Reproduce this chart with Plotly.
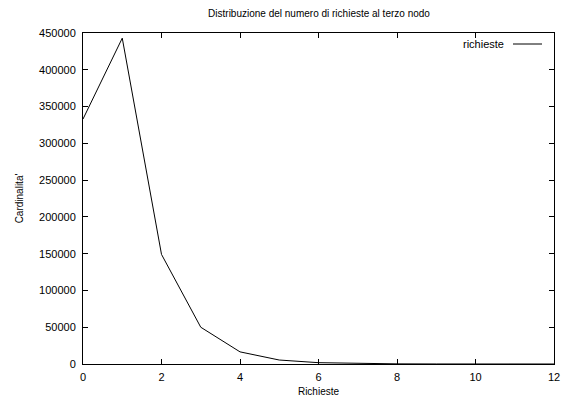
import plotly.graph_objects as go

richieste = [0, 1, 2, 3, 4, 5, 6, 7, 8, 9, 10, 11, 12]
cardinalita = [333000, 443000, 149000, 50000, 16500, 5400, 1800, 600, 200, 60, 20, 6, 2]
x_ticks = [0, 2, 4, 6, 8, 10, 12]
y_ticks = [0, 50000, 100000, 150000, 200000, 250000, 300000, 350000, 400000, 450000]

FAM = "Liberation Sans, Arial, sans-serif"
font = dict(family=FAM, size=11, color="black")
tfont = dict(family=FAM, size=10, color="black")

fig = go.Figure()
fig.add_trace(go.Scatter(x=richieste, y=cardinalita, mode="lines",
                         line=dict(color="black", width=1), name="richieste",
                         showlegend=False))

axis_common = dict(showline=True, linecolor="black", linewidth=1, mirror="allticks",
                   ticks="inside", ticklen=5, tickcolor="black", tickwidth=1,
                   showgrid=False, zeroline=False, tickfont=font, automargin=False)

fig.update_layout(
    width=572, height=398,
    margin=dict(l=83, r=18, t=33, b=34),
    paper_bgcolor="white", plot_bgcolor="white",
    font=font,
    title=dict(text="Distribuzione del numero di richieste al terzo nodo",
               x=319 / 572, xanchor="center", y=1 - 13 / 398, yanchor="middle",
               font=tfont),
    xaxis=dict(range=[0, 12], tickvals=x_ticks, ticktext=[str(v) for v in x_ticks],
               ticklabelstandoff=3,
               title=dict(text="Richieste", standoff=5, font=tfont), **axis_common),
    yaxis=dict(range=[0, 450000], tickvals=y_ticks, ticktext=[str(v) for v in y_ticks],
               ticklabelstandoff=4,
               title=dict(text="Cardinalita'", standoff=13, font=tfont), **axis_common),
)

# legend drawn gnuplot-style: text then line sample
fig.add_annotation(xref="paper", yref="paper", x=(506 - 83) / 471, y=1 - (44 - 33) / 331,
                   text="richieste", showarrow=False, xanchor="right", yanchor="middle",
                   font=font)
fig.add_shape(type="line", xref="paper", yref="paper",
              x0=(513 - 83) / 471, x1=(542 - 83) / 471,
              y0=1 - (44 - 33) / 331, y1=1 - (44 - 33) / 331,
              line=dict(color="black", width=1))

fig.write_html("out.html")
